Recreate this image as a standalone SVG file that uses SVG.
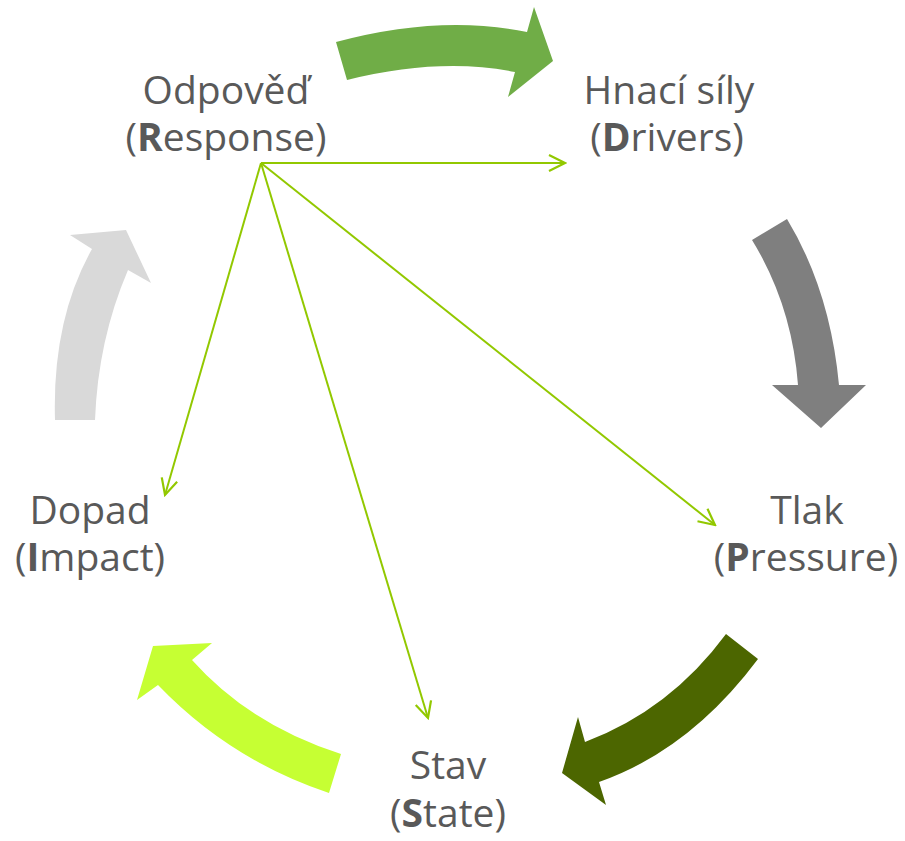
<svg xmlns="http://www.w3.org/2000/svg" width="905" height="841" viewBox="0 0 905 841">
<defs>
<style>
.t{font-family:"Open Sans","Noto Sans","Liberation Sans",sans-serif;font-size:39px;fill:#595959;text-anchor:middle}
.b{font-weight:bold}
.ln{stroke:#92C800;stroke-width:2;fill:none;marker-end:url(#ah)}
</style>
<marker id="ah" viewBox="0 0 20 20" refX="18" refY="10" markerWidth="20" markerHeight="20" markerUnits="userSpaceOnUse" orient="auto">
<path d="M2,2 L18,10 L2,18" fill="none" stroke="#92C800" stroke-width="2.2"/>
</marker>
</defs>
<rect width="905" height="841" fill="#fff"/>
<g id="cycle-arrows">
<path d="M336,42 Q440,14 527,32 L534,7 L553,61 L508,97 L515,72 Q440,57 347,80 Z" fill="#70AD47"/>
<path d="M787,219 Q830,290 839,385 L866,385 L821,428 L772,385 L798,385 Q792,305 752,240 Z" fill="#7F7F7F"/>
<path d="M758,659 Q690,750 599,782 L606,805 L562,773 L578,717 L585,742 Q670,710 726,634 Z" fill="#4C6600"/>
<path d="M341,754 Q250,725 192,660 L212,643 L153,646 L137,700 L158,685 Q230,760 329,793 Z" fill="#C6FF33"/>
<path d="M55,420 Q52,320 92,249 L70,235 L126,230 L151,283 L128,270 Q98,340 95,420 Z" fill="#D9D9D9"/>
</g>
<g id="connectors">
<line class="ln" x1="261" y1="163" x2="565" y2="163"/>
<line class="ln" x1="261" y1="163" x2="715" y2="525"/>
<line class="ln" x1="261" y1="163" x2="428" y2="718"/>
<line class="ln" x1="261" y1="163" x2="165" y2="495"/>
</g>
<g id="response">
<text class="t" x="226" y="104">Odpověď</text>
<text class="t" x="226" y="151">(<tspan class="b">R</tspan>esponse)</text>
</g>
<g id="drivers">
<text class="t" x="669" y="104">Hnací síly</text>
<text class="t" x="667" y="151">(<tspan class="b">D</tspan>rivers)</text>
</g>
<g id="pressure">
<text class="t" x="807" y="524">Tlak</text>
<text class="t" x="806" y="571">(<tspan class="b">P</tspan>ressure)</text>
</g>
<g id="state">
<text class="t" x="448" y="779">Stav</text>
<text class="t" x="448" y="827">(<tspan class="b">S</tspan>tate)</text>
</g>
<g id="impact">
<text class="t" x="90" y="524">Dopad</text>
<text class="t" x="90" y="571">(<tspan class="b">I</tspan>mpact)</text>
</g>
</svg>
